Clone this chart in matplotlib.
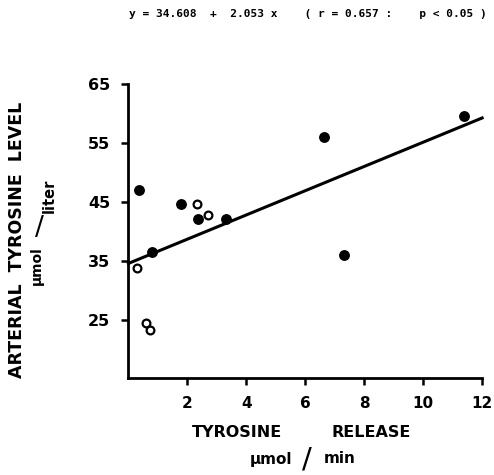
import numpy as np
import matplotlib.pyplot as plt

# filled circles
filled_x = [0.36, 0.80, 1.80, 2.37, 3.30, 6.63, 7.30, 11.40]
filled_y = [47.0, 36.5, 44.7, 42.1, 42.2, 56.0, 36.0, 59.5]
# open circles
open_x = [0.30, 2.32, 2.70, 0.58, 0.72]
open_y = [33.8, 44.7, 42.8, 24.6, 23.4]

intercept = 34.608
slope = 2.053

xticks = [2, 4, 6, 8, 10, 12]
yticks = [25, 35, 45, 55, 65]

fig = plt.figure(figsize=(4.94, 4.75), dpi=100)
ax = fig.add_axes([0.260, 0.2042, 0.716, 0.619])

line_x = np.array([0, 12])
ax.plot(line_x, intercept + slope * line_x, color="black", lw=2.2, clip_on=False)
ax.plot(filled_x, filled_y, "o", color="black", ms=6.8, zorder=3, clip_on=False)
ax.plot(open_x, open_y, "o", mfc="white", mec="black", mew=1.6, ms=5.6, zorder=3, clip_on=False)

ax.set_xlim(0, 12)
ax.set_ylim(15.2, 65)
ax.set_xticks(xticks)
ax.set_yticks(yticks)
for s in ["top", "right"]:
    ax.spines[s].set_visible(False)
for s in ["left", "bottom"]:
    ax.spines[s].set_linewidth(2)
ax.tick_params(direction="out", width=1.8, length=5, labelsize=11.5, pad=8)
ax.tick_params(axis="x", labelsize=11)
for lab in ax.get_xticklabels() + ax.get_yticklabels():
    lab.set_fontweight("bold")
    lab.set_family("DejaVu Sans")

font = dict(family="DejaVu Sans", fontweight="bold", color="black")
fig.text(0.623, 0.970, "y = 34.608  +  2.053 x    ( r = 0.657 :    p < 0.05 )",
         ha="center", va="center", fontsize=8, family="DejaVu Sans Mono", fontweight="bold")

# y label
fig.text(0.035, 0.495, "ARTERIAL  TYROSINE  LEVEL", rotation=90, ha="center", va="center",
         fontsize=12.5, **font)
fig.text(0.075, 0.440, "µmol", rotation=90, ha="center", va="center", fontsize=10, **font)
fig.text(0.080, 0.520, "/", rotation=0, ha="center", va="center", fontsize=19,
         family="DejaVu Sans", color="black")
fig.text(0.099, 0.588, "liter", rotation=90, ha="center", va="center", fontsize=10.5, **font)

# x label
fig.text(0.480, 0.090, "TYROSINE", ha="center", va="center", fontsize=11.5, **font)
fig.text(0.752, 0.090, "RELEASE", ha="center", va="center", fontsize=11.5, **font)
fig.text(0.548, 0.032, "µmol", ha="center", va="center", fontsize=11, **font)
fig.text(0.621, 0.032, "/", ha="center", va="center", fontsize=21,
         family="DejaVu Sans", color="black")
fig.text(0.688, 0.034, "min", ha="center", va="center", fontsize=11, **font)

fig.savefig("out.png", dpi=100)
